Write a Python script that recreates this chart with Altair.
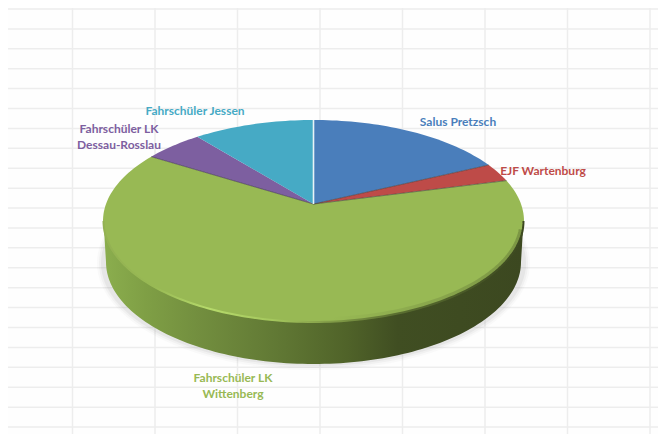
import math
import altair as alt

# --- chart values -------------------------------------------------------
names = ["Salus Pretzsch", "EJF Wartenburg", "Fahrschüler LK Wittenberg",
         "Fahrschüler LK Dessau-Rosslau", "Fahrschüler Jessen"]
shares = [18.0, 3.0, 62.8, 5.3, 10.9]
slice_colors = ["#4a7ebb", "#be4b48", "#98b954", "#7d5fa0", "#46aac5"]
label_colors = ["#4f81bd", "#c0504d", "#9bbb59", "#8064a2", "#4bacc6"]
label_lines = [["Salus Pretzsch"], ["EJF Wartenburg"], ["Fahrschüler LK", "Wittenberg"],
               ["Fahrschüler LK", "Dessau-Rosslau"], ["Fahrschüler Jessen"]]
columns = [0, 1, 2, 3, 4, 5, 6, 7]
rows = list(range(22))

# --- layout -------------------------------------------------------------
W, H = 650, 426
CX, CY = 305.5, 213.0      # centre of the top ellipse, chart pixels
A, B = 210.5, 101.0        # semi-axes of the top ellipse
TILT = 0.168               # perspective shift of the pie's centre
DEPTH = 41.0
lx = {"Salus Pretzsch": (450, 114), "EJF Wartenburg": (535, 163),
      "Fahrschüler LK Wittenberg": (225, 370),
      "Fahrschüler LK Dessau-Rosslau": (111, 121), "Fahrschüler Jessen": (187, 103)}


def rim(deg):
    t = math.radians(deg)
    x, y = math.sin(t), math.cos(t)
    d = 1 + TILT * y
    return [A * x * math.sqrt(1 - TILT ** 2) / d, B * (y + TILT) / d]


def ell(a, b, dy, start, end, n=120):
    return [[a * math.cos(math.radians(start + (end - start) * i / n)),
             dy + b * math.sin(math.radians(start + (end - start) * i / n))] for i in range(n + 1)]


def feat(kind, coords, **props):
    return {"type": "Feature", "properties": props, "geometry": {"type": kind, "coordinates": coords}}


PROJ = dict(type="identity", reflectY=True, scale=1, translate=[CX, CY])

# slices
apex = [0, B * TILT]
slices, cum = [], 0.0
for nm, val in zip(names, shares):
    a0, a1 = cum * 3.6, (cum + val) * 3.6
    cum += val
    n = max(4, int((a1 - a0) / 1.5))
    arc = [rim(a0 + (a1 - a0) * i / n) for i in range(n + 1)]
    slices.append(feat("Polygon", [[apex] + arc + [apex]], name=nm, share=val))


def geo(features, **mark):
    return alt.Chart(alt.Data(values=features)).mark_geoshape(**mark).project(**PROJ)


def grad(stops):
    return alt.Gradient(gradient="linear", x1=0, x2=1, y1=0, y2=0,
                        stops=[alt.GradientStop(offset=o, color=c) for o, c in stops])


# background grid, a spreadsheet's cells
x_scale = alt.Scale(domain=[-64.5 / 82.5, (W - 64.5) / 82.5], nice=False, zero=False)
y_scale = alt.Scale(domain=[(H + 1) / 20, -1 / 20], nice=False, zero=False)
grid_v = alt.Chart(alt.Data(values=[{"c": c} for c in columns])).mark_rule(
    color="#ededed", strokeWidth=1.5).encode(x=alt.X("c:Q", scale=x_scale, axis=None))
grid_h = alt.Chart(alt.Data(values=[{"r": r} for r in rows])).mark_rule(
    color="#ededed", strokeWidth=1.5).encode(y=alt.Y("r:Q", scale=y_scale, axis=None))

# soft shadow below the disc
shadow = [geo([feat("Polygon", [ell(A + g, B + g, -DEPTH - 1, 0, 360)])], fill="#9a9a9a", opacity=op, strokeWidth=0)
          for g, op in [(6, 0.05), (4, 0.08), (2, 0.12)]]

# side wall
wall_pts = ell(A - 0.5, B, 0, 180, 360) + ell(A - 3, B + 1, -DEPTH, 360, 180)
wall = geo([feat("Polygon", [wall_pts + [wall_pts[0]]])],
           strokeWidth=0,
           fill=grad([(0, "#8bae4e"), (0.10, "#7f9f45"), (0.22, "#738f3f"), (0.40, "#627a35"),
                      (0.58, "#506329"), (0.70, "#404e22"), (1, "#3c4820")]))

# top face
top = alt.Chart(alt.Data(values=slices)).mark_geoshape(strokeWidth=0).encode(
    color=alt.Color("properties.name:N", scale=alt.Scale(domain=names, range=slice_colors), legend=None)
).project(**PROJ)

# bevel along the front rim of the top face
bevel_dark = geo([feat("LineString", ell(A - 2, B - 2, 0, 185, 355))], filled=False, strokeWidth=5, opacity=0.3,
                 stroke=grad([(0, "#98b954"), (0.55, "#98b954"), (0.8, "#65793a"), (1, "#3c4820")]))
bevel = geo([feat("LineString", ell(A - 0.5, B, 0, 180, 360))], filled=False, strokeWidth=2,
            stroke=grad([(0, "#93b152"), (0.12, "#98b954"), (0.25, "#b6da6b"), (0.40, "#a5c85e"),
                         (0.5, "#8da94e"), (0.7, "#5a6e30"), (1, "#3c4820")]))

# thin seams between slices
edge_angles = [shares[0] * 3.6, (shares[0] + shares[1]) * 3.6, (shares[0] + shares[1] + shares[2]) * 3.6]
seam_dark = geo([feat("LineString", [apex, rim(a)]) for a in edge_angles], filled=False,
                stroke="#3a3a3a", strokeWidth=1, opacity=0.55)
seam_white = geo([feat("LineString", [apex, rim(0)])], filled=False, stroke="#e8f3f7", strokeWidth=1.6)

# labels
label_rows = []
for nm, lines in zip(names, label_lines):
    label_rows.append({"name": nm, "text": "\n".join(lines), "px": lx[nm][0], "py": lx[nm][1]})
labels = alt.Chart(alt.Data(values=label_rows)).mark_text(
    font="Lato", fontWeight="bold", fontSize=12, lineHeight=16, lineBreak="\n", baseline="middle", align="center"
).encode(
    x=alt.X("px:Q", scale=None), y=alt.Y("py:Q", scale=None), text="text:N",
    color=alt.Color("name:N", scale=alt.Scale(domain=names, range=label_colors), legend=None),
)

chart = alt.layer(grid_v, grid_h, *shadow, wall, top, bevel_dark, bevel, seam_dark, seam_white, labels).properties(
    width=W, height=H, padding=0, background="#fefefe", autosize=alt.AutoSizeParams(type="none")
).configure_view(stroke=None)

chart.save("out.html", embed_options={"renderer": "svg", "actions": False})
